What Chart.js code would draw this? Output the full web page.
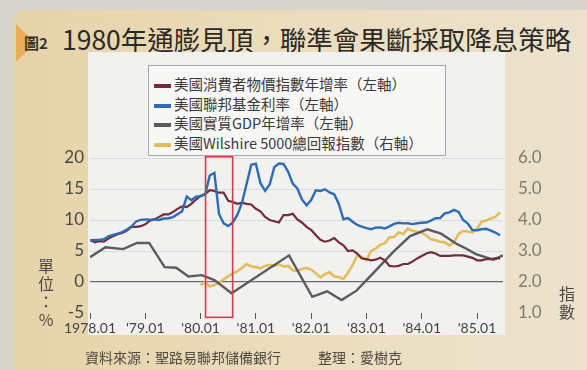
<!DOCTYPE html>
<html>
<head>
<meta charset="utf-8">
<script src="https://cdn.jsdelivr.net/npm/chart.js@4.4.1/dist/chart.umd.min.js"></script>
<style>
  html, body { margin: 0; padding: 0; }
  body {
    width: 587px; height: 370px; overflow: hidden; position: relative;
    background: #d7d4cf;
    font-family: "Noto Sans CJK TC", "Noto Sans", sans-serif;
  }
  #page {
    position: absolute; left: 13px; top: 10px; right: 0; bottom: 0;
    border-top-left-radius: 14px;
    background: linear-gradient(90deg, #e6d3a8 0%, #ebdcbb 45%, #ece2cd 100%);
  }
  .tab {
    position: absolute; left: 16px; top: 24px; width: 0; height: 0;
    border-top: 19px solid transparent; border-bottom: 19px solid transparent;
    border-left: 19px solid #e9ad58;
  }
  .fig { position: absolute; left: 24px; top: 32px; font-size: 15px; color: #3a332c; font-weight: bold; }
  h1 {
    position: absolute; left: 62px; top: 19px; margin: 0;
    font-size: 26.5px; font-weight: 400; color: #2b2926; white-space: nowrap;
  }
  canvas { position: absolute; left: 0; top: 0; }
  #legend {
    position: absolute; left: 148px; top: 65px; width: 298px; height: 91px;
    box-sizing: border-box; padding: 8px 0 0 5px;
    background: #f7f7f6; border: 1px solid #a8a8a8;
  }
  .item { height: 19.5px; line-height: 19px; font-size: 14.5px; color: #3d3a3a; white-space: nowrap; }
  .swatch { display: inline-block; width: 17px; height: 4px; margin-right: 3px; vertical-align: middle; }
  .vert {
    position: absolute; writing-mode: vertical-rl; text-orientation: upright;
    font-size: 16px; color: #4f4a44; letter-spacing: 2px;
  }
  .src { position: absolute; top: 347px; font-size: 14px; color: #4e4942; white-space: nowrap; }
</style>
</head>
<body>
<div id="page"></div>
<div class="tab"></div>
<div class="fig">圖2</div>
<h1>1980年通膨見頂，聯準會果斷採取降息策略</h1>
<canvas id="grafico" width="587" height="370"></canvas>
<div id="legend"></div>
<div class="vert" style="left:34px;top:258px;">單位：%</div>
<div class="vert" style="left:555px;top:286px;">指數</div>
<div class="src" style="left:85px;">資料來源：聖路易聯邦儲備銀行</div>
<div class="src" style="left:318px;">整理：愛樹克</div>

<script>
// ==============================
// DATOS
// ==============================
const seriesLabels = [
  "美國消費者物價指數年增率（左軸）",
  "美國聯邦基金利率（左軸）",
  "美國實質GDP年增率（左軸）",
  "美國Wilshire 5000總回報指數（右軸）"
];

// mensual desde 1978.01
const cpiStart = 1978;
const cpiValues = [
  6.8, 6.4, 6.6, 6.5, 7.0, 7.4, 7.7, 7.9, 8.3, 8.9, 8.9, 9.0,
  9.3, 9.9, 10.1, 10.5, 10.9, 10.9, 11.3, 11.8, 12.2, 12.1, 12.6, 13.3,
  13.9, 14.2, 14.8, 14.7, 14.4, 14.4, 13.1, 12.9, 12.6, 12.8, 12.6, 12.5,
  11.8, 11.4, 10.5, 10.0, 9.8, 9.6, 10.8, 10.8, 11.0, 10.1, 9.6, 8.9,
  8.4, 7.6, 6.8, 6.5, 6.7, 7.1, 6.4, 5.9, 5.0, 5.1, 4.6, 3.8,
  3.7, 3.5, 3.6, 3.9, 3.5, 2.6, 2.5, 2.6, 2.9, 2.9, 3.3, 3.8,
  4.2, 4.6, 4.8, 4.6, 4.2, 4.2, 4.2, 4.3, 4.3, 4.3, 4.1, 3.9,
  3.5, 3.5, 3.7, 3.7, 3.8, 3.8
];

// mensual desde 1978.01
const fedStart = 1978;
const fedValues = [
  6.70, 6.78, 6.79, 6.89, 7.36, 7.60, 7.81, 8.04, 8.45, 8.96, 9.76, 10.03,
  10.07, 10.06, 10.09, 10.01, 10.24, 10.29, 10.47, 10.94, 11.43, 13.77, 13.18, 13.78,
  13.82, 14.13, 17.19, 17.61, 10.98, 9.47, 9.03, 9.61, 10.87, 12.81, 15.85, 18.90,
  19.08, 15.93, 14.70, 15.72, 18.52, 19.10, 19.04, 17.82, 15.87, 15.08, 13.31, 12.37,
  13.22, 14.78, 14.68, 14.94, 14.45, 14.15, 12.59, 10.12, 10.31, 9.71, 9.20, 8.95,
  8.68, 8.51, 8.77, 8.80, 8.63, 8.98, 9.37, 9.56, 9.45, 9.48, 9.34, 9.47,
  9.56, 9.59, 9.91, 10.29, 10.32, 11.06, 11.23, 11.64, 11.30, 9.99, 9.43, 8.38,
  8.35, 8.50, 8.58, 8.27, 7.97, 7.53
];

// puntos (año decimal)
const gdpDates = [
  1978.0, 1978.28, 1978.6, 1978.85, 1979.07, 1979.35, 1979.56, 1979.78,
  1980.02, 1980.25, 1980.56, 1981.6, 1982.02, 1982.29, 1982.55, 1982.82,
  1983.14, 1983.49, 1983.79, 1984.1, 1984.35, 1984.64, 1984.8, 1984.98,
  1985.15, 1985.3, 1985.47
];
const gdpValues = [
  4.0, 5.6, 5.3, 6.3, 6.3, 2.4, 2.3, 0.9,
  1.1, 0.3, -1.8, 4.3, -2.4, -1.5, -2.9, -1.4,
  1.6, 4.9, 7.4, 8.5, 7.8, 6.1, 5.4, 4.5,
  4.0, 3.6, 4.3
];

// mensual desde 1980.01 (eje derecho)
const wilStart = 1980;
const wilValues = [
  1.90, 2.00, 1.86, 1.90, 1.98, 2.08, 2.18, 2.28, 2.35, 2.45, 2.58, 2.50,
  2.48, 2.44, 2.52, 2.55, 2.52, 2.57, 2.50, 2.52, 2.38, 2.36, 2.42, 2.45,
  2.40, 2.28, 2.15, 2.25, 2.32, 2.18, 2.16, 2.10, 2.30, 2.55, 2.85, 2.80,
  2.70, 3.00, 3.08, 3.20, 3.25, 3.44, 3.45, 3.60, 3.55, 3.72, 3.65, 3.62,
  3.60, 3.50, 3.38, 3.35, 3.30, 3.28, 3.18, 3.28, 3.55, 3.65, 3.62, 3.60,
  3.72, 3.95, 3.98, 4.05, 4.10, 4.25
];

const xTickYears = [1978, 1979, 1980, 1981, 1982, 1983, 1984, 1985];
const leftTicks = [-5, 0, 5, 10, 15, 20];
const rightTicks = [1, 2, 3, 4, 5, 6];
const highlight = [1980.09, 1980.58];

function mensual(start, values) {
  return values.map((v, i) => ({ x: start + i / 12, y: v }));
}

// ==============================
// PLUGINS
// ==============================
const panel = {
  id: "panel",
  beforeDraw(chart) {
    const { ctx, chartArea } = chart;
    ctx.save();
    ctx.fillStyle = "#f1f1f0";
    ctx.fillRect(chartArea.left - 2, 52, chartArea.right - chartArea.left + 4, chartArea.bottom + 22 - 52);
    ctx.restore();
  }
};

const cuadro = {
  id: "cuadro",
  afterDatasetsDraw(chart) {
    const { ctx, scales } = chart;
    const l = scales.x.getPixelForValue(highlight[0]);
    const r = scales.x.getPixelForValue(highlight[1]);
    const t = scales.y.getPixelForValue(20.2);
    const b = scales.y.getPixelForValue(-5.7);
    ctx.save();
    ctx.strokeStyle = "#c8414e";
    ctx.lineWidth = 1.6;
    ctx.strokeRect(l, t, r - l, b - t);
    ctx.restore();
  }
};

// ==============================
// GRÁFICO
// ==============================
const chart = new Chart(document.getElementById("grafico"), {
  type: "line",
  data: {
    datasets: [
      { label: seriesLabels[0], data: mensual(cpiStart, cpiValues), borderColor: "#742c3c", borderWidth: 2.2, yAxisID: "y", order: 1 },
      { label: seriesLabels[1], data: mensual(fedStart, fedValues), borderColor: "#2f6cb6", borderWidth: 2.4, yAxisID: "y", order: 0 },
      { label: seriesLabels[2], data: gdpDates.map((d, i) => ({ x: d, y: gdpValues[i] })), borderColor: "#5c5a5a", borderWidth: 2.4, yAxisID: "y", order: 2 },
      { label: seriesLabels[3], data: mensual(wilStart, wilValues), borderColor: "#e3bd5c", borderWidth: 2.6, yAxisID: "y1", order: 3 }
    ]
  },
  options: {
    responsive: false,
    animation: false,
    layout: { padding: { top: 158, left: 0, right: 0, bottom: 0 } },
    elements: { point: { radius: 0 }, line: { tension: 0 } },
    plugins: { legend: { display: false }, tooltip: { enabled: false } },
    scales: {
      x: {
        type: "linear", min: 1978, max: 1985.47,
        afterFit(s) { s.height = 57; },
        afterBuildTicks(s) { s.ticks = xTickYears.map(v => ({ value: v })); },
        border: { display: false },
        grid: { drawOnChartArea: false, tickLength: 6, color: "#555" },
        ticks: {
          padding: 1, color: "#444", maxRotation: 0, autoSkip: false,
          font: { family: "Lato", size: 14 },
          callback: v => v === 1978 ? "1978.01" : "'" + String(v).slice(2) + ".01"
        }
      },
      y: {
        position: "left", min: -5, max: 20,
        afterFit(s) { s.width = 90; },
        afterBuildTicks(s) { s.ticks = leftTicks.map(v => ({ value: v })); },
        border: { display: false },
        grid: {
          drawTicks: false,
          color: c => c.tick.value === 0 ? "#6b6b6b" : (c.tick.value === -5 ? "rgba(0,0,0,0)" : "#dcdcdc"),
          lineWidth: c => c.tick.value === 0 ? 1.3 : 1
        },
        ticks: { padding: 6, color: "#4a4744", font: { family: "Lato", size: 17 } }
      },
      y1: {
        position: "right", min: 1, max: 6,
        afterFit(s) { s.width = 84; },
        afterBuildTicks(s) { s.ticks = rightTicks.map(v => ({ value: v })); },
        border: { display: false },
        grid: { display: false, drawTicks: false },
        ticks: { padding: 15, color: "#847a68", font: { family: "Lato", size: 17 }, callback: v => v.toFixed(1) }
      }
    }
  },
  plugins: [panel, cuadro]
});

// ==============================
// LEYENDA
// ==============================
const leyenda = document.getElementById("legend");
chart.data.datasets.forEach(ds => {
  const fila = document.createElement("div");
  fila.className = "item";
  const muestra = document.createElement("span");
  muestra.className = "swatch";
  muestra.style.background = ds.borderColor;
  fila.appendChild(muestra);
  fila.appendChild(document.createTextNode(ds.label));
  leyenda.appendChild(fila);
});
</script>
</body>
</html>
